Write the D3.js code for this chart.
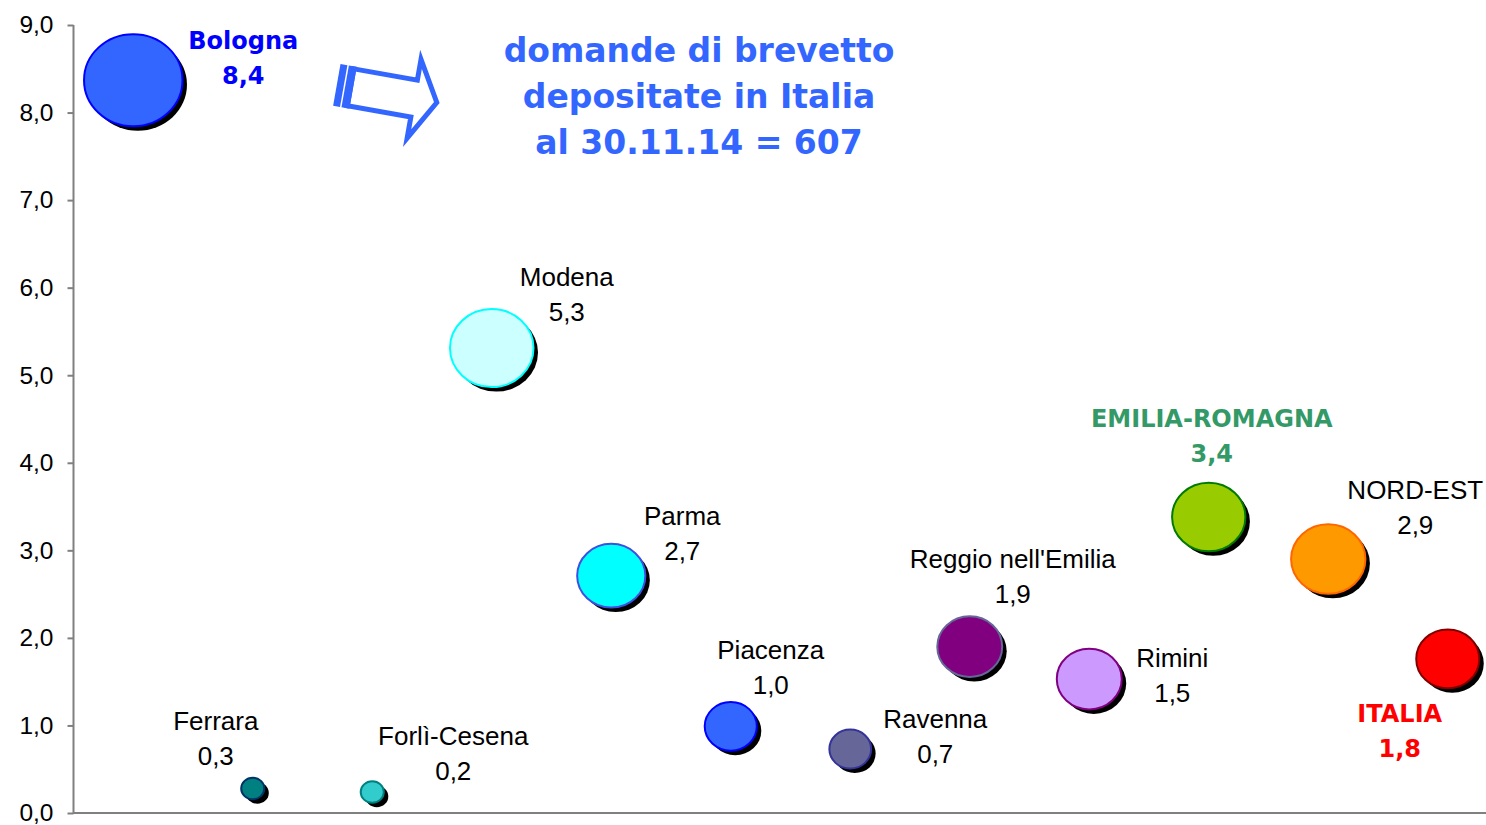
<!DOCTYPE html>
<html>
<head>
<meta charset="utf-8">
<script src="https://cdn.jsdelivr.net/npm/d3@7"></script>
<style>
  html, body { margin: 0; padding: 0; background: #fff; }
  svg { display: block; }
</style>
</head>
<body>
<div id="chart"></div>
<script>
// data
const categories = ['Bologna', 'Ferrara', 'Forlì-Cesena', 'Modena', 'Parma', 'Piacenza',
  'Ravenna', "Reggio nell'Emilia", 'Rimini', 'EMILIA-ROMAGNA', 'NORD-EST', 'ITALIA'];
const patentsPer100k = [8.37, 0.28, 0.24, 5.31, 2.71, 0.99, 0.73, 1.9, 1.53, 3.38, 2.9, 1.76];
const bubbleSize = [100, 5.5, 5.5, 72, 48, 28, 18, 43.5, 43.5, 55.5, 57, 41];
const yTicks = [0, 1, 2, 3, 4, 5, 6, 7, 8, 9];
const titleLines = ['domande di brevetto', 'depositate in Italia', 'al 30.11.14 = 607'];

// look of each bubble and where its label sits
const fills   = ['#3366ff', '#008080', '#33cccc', '#ccffff', '#00ffff', '#3366ff',
  '#666699', '#800080', '#cc99ff', '#99cc00', '#ff9900', '#ff0000'];
const strokes = ['#0000ff', '#003366', '#008080', '#00ffff', '#3f4fe0', '#0000ff',
  '#333399', '#666699', '#800080', '#007a00', '#ff6600', '#800000'];
const labelOffset = [[110, -31], [-37, -58], [81, -47], [75, -62], [71, -51], [40, -67],
  [85, -21], [43, -79], [83, -12], [3, -90], [87, -60], [-48, 63]];
const boldLabel = { 'Bologna': '#0000ff', 'EMILIA-ROMAGNA': '#339966', 'ITALIA': '#ff0000' };

const W = 1486, H = 825;
const margin = { left: 73.5, bottom: 813, top: 25 };

const it = d3.formatLocale({ decimal: ',', thousands: '.', grouping: [3], currency: ['', '€'] });
const fmt = it.format('.1f');

const svg = d3.select('#chart').append('svg')
  .attr('width', W)
  .attr('height', H);

svg.append('rect').attr('width', W).attr('height', H).attr('fill', '#fff');

const x = d3.scaleBand()
  .domain(categories)
  .range([margin.left, margin.left + 12 * 119.5]);

const y = d3.scaleLinear()
  .domain([0, 9])
  .range([margin.bottom, margin.top]);

const r = d3.scaleSqrt()
  .domain([0, 100])
  .range([0, 46]);

const points = categories.map(function(c, i) {
  return { name: c, value: patentsPer100k[i], size: bubbleSize[i], i: i };
});

// y axis
const yAxis = d3.axisLeft(y)
  .tickValues(yTicks)
  .tickFormat(fmt)
  .tickSize(6)
  .tickPadding(14);

const gy = svg.append('g')
  .attr('transform', 'translate(' + margin.left + ',0)')
  .call(yAxis);
gy.select('.domain').attr('stroke', '#808080').attr('stroke-width', 2)
  .attr('d', 'M0,' + (margin.bottom + 1) + 'V' + margin.top);
gy.selectAll('.tick line').attr('stroke', '#808080').attr('stroke-width', 2);
gy.selectAll('.tick text')
  .attr('fill', '#000')
  .style('font-family', "'Liberation Sans', Arial, sans-serif")
  .style('font-size', '24.5px');

// x axis line only
svg.append('line')
  .attr('x1', margin.left).attr('x2', W)
  .attr('y1', y(0)).attr('y2', y(0))
  .attr('stroke', '#808080')
  .attr('stroke-width', 2);

// bubbles with a drop shadow
const bubbles = svg.append('g').selectAll('g')
  .data(points)
  .enter().append('g')
  .attr('transform', function(d) {
    return 'translate(' + (x(d.name) + x.bandwidth() / 2) + ',' + y(d.value) + ')';
  });

bubbles.append('ellipse')
  .attr('cx', 4.5).attr('cy', 4.5)
  .attr('rx', function(d) { return r(d.size) * 1.07; })
  .attr('ry', function(d) { return r(d.size); })
  .attr('fill', '#000');

bubbles.append('ellipse')
  .attr('rx', function(d) { return r(d.size) * 1.07; })
  .attr('ry', function(d) { return r(d.size); })
  .attr('fill', function(d) { return fills[d.i]; })
  .attr('stroke', function(d) { return strokes[d.i]; })
  .attr('stroke-width', 2);

// data labels: name and value
bubbles.each(function(d) {
  const g = d3.select(this);
  const off = labelOffset[d.i];
  const bold = boldLabel[d.name];
  const t = g.append('text')
    .attr('text-anchor', 'middle')
    .attr('fill', bold || '#000')
    .style('font-family', bold ? "'DejaVu Sans', Verdana, sans-serif" : "'Liberation Sans', Arial, sans-serif")
    .style('font-size', bold ? '24px' : '26px')
    .style('font-weight', bold ? 'bold' : 'normal');
  t.append('tspan').attr('x', off[0]).attr('y', off[1]).text(d.name);
  t.append('tspan').attr('x', off[0]).attr('y', off[1] + 35).text(fmt(d.value));
});

// striped block arrow pointing at the title
const arrow = svg.append('g')
  .attr('transform', 'translate(340.5,64) rotate(10)')
  .attr('fill', '#3366ff');

arrow.append('rect')
  .attr('x', 0).attr('y', 0)
  .attr('width', 7).attr('height', 42.5);

arrow.append('rect')
  .attr('x', 8.5).attr('y', 0)
  .attr('width', 8).attr('height', 42.5);

arrow.append('path')
  .attr('fill', 'none')
  .attr('stroke', '#3366ff')
  .attr('stroke-width', 5)
  .attr('stroke-linejoin', 'miter')
  .attr('d', 'M14,2.5 L78.5,2.5 L78.5,-18.5 L101.5,21.2 L78.5,61.5 L78.5,40 L14,40 Z');

// annotation
svg.append('text')
  .attr('x', 699)
  .attr('text-anchor', 'middle')
  .attr('fill', '#3366ff')
  .style('font-family', "'DejaVu Sans', Verdana, sans-serif")
  .style('font-size', '33px')
  .style('font-weight', 'bold')
  .selectAll('tspan')
  .data(titleLines)
  .enter().append('tspan')
  .attr('x', 699)
  .attr('y', function(d, i) { return 62 + i * 46; })
  .text(function(d) { return d; });
</script>
</body>
</html>
